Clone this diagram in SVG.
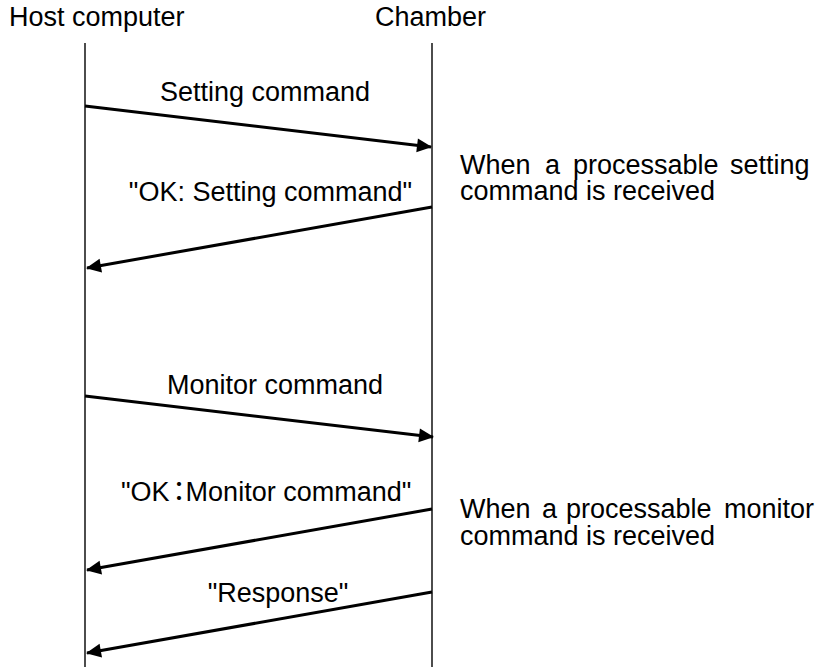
<svg xmlns="http://www.w3.org/2000/svg" width="815" height="667" viewBox="0 0 815 667">
<style>
text{font-family:"Liberation Sans",Arial,"Noto Sans CJK JP",sans-serif;font-size:27px;fill:#000}
.life{stroke:#000;stroke-width:1.4;fill:none}
.msg{stroke:#000;stroke-width:3;fill:none;marker-end:url(#ah)}
.c{text-anchor:middle}
</style>
<defs>
<marker id="ah" markerUnits="userSpaceOnUse" markerWidth="16" markerHeight="14" refX="14" refY="7" orient="auto" overflow="visible">
<path d="M0,0 L15,7 L0,14 Z" fill="#000"/>
</marker>
</defs>
<rect width="815" height="667" fill="#fff"/>
<g id="host">
<text x="9" y="26">Host computer</text>
<line class="life" x1="85" y1="43" x2="85" y2="667"/>
</g>
<g id="chamber">
<text x="375" y="26">Chamber</text>
<line class="life" x1="432" y1="43" x2="432" y2="667"/>
</g>
<g id="connectors">
<line class="msg" x1="85" y1="106" x2="431" y2="147"/>
<line class="msg" x1="432" y1="207" x2="87" y2="268"/>
<line class="msg" x1="85" y1="396" x2="433" y2="437"/>
<line class="msg" x1="432" y1="509" x2="87" y2="570"/>
<line class="msg" x1="432" y1="592" x2="87" y2="653"/>
</g>
<g id="labels">
<text class="c" x="265" y="101">Setting command</text>
<text class="c" x="270.5" y="201">"OK: Setting command"</text>
<text class="c" x="275" y="394">Monitor command</text>
<text x="121" y="501">"OK<tspan dx="-4">：</tspan><tspan dx="-7">Monitor command"</tspan></text>
<text class="c" x="278" y="602">"Response"</text>
</g>
<g id="note1">
<text y="174"><tspan x="460">When</tspan><tspan x="545">a</tspan><tspan x="573">processable</tspan><tspan x="730">setting</tspan></text>
<text x="460" y="200">command is received</text>
</g>
<g id="note2">
<text y="518"><tspan x="460">When</tspan><tspan x="542">a</tspan><tspan x="566">processable</tspan><tspan x="724">monitor</tspan></text>
<text x="460" y="545">command is received</text>
</g>
</svg>
